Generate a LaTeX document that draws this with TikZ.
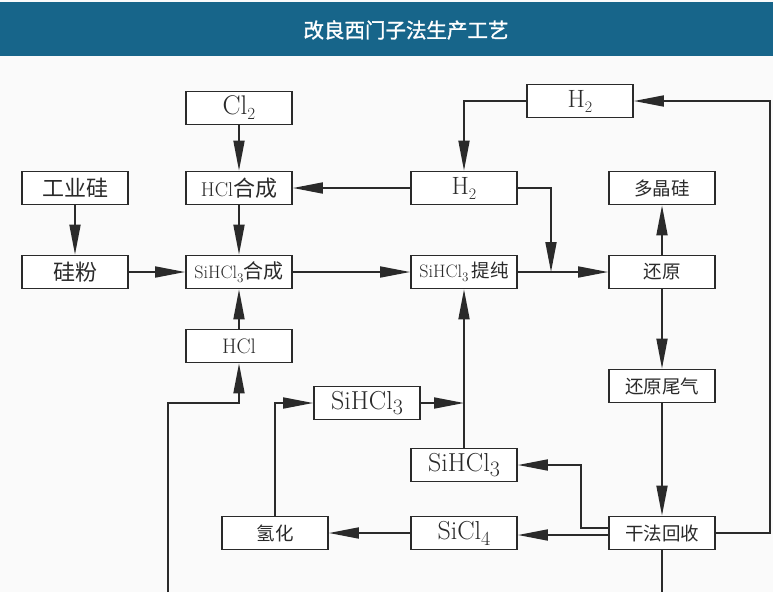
\documentclass[tikz,border=0pt]{standalone}
\usepackage{fontspec}
\newfontfamily\cjk{Noto Sans CJK SC}
\newfontfamily\cjktitle[FakeBold=1.5]{Noto Sans CJK SC}
\usetikzlibrary{arrows.meta}
\definecolor{barblue}{HTML}{17658A}
\definecolor{ink}{HTML}{2A2A2A}
\newcommand{\fsz}[1]{\fontsize{#1}{#1}\selectfont}
\newcommand{\lowsub}[3]{\raisebox{-#1pt}{\fsz{#2}#3}}
\begin{document}
\begin{tikzpicture}[x=1pt,y=-1pt,
  box/.style={draw=ink, line width=1.8pt, minimum width=106pt, minimum height=33pt, inner sep=0pt, fill=white, text=ink},
  conn/.style={draw=ink, line width=1.8pt},
  arr/.style={conn, -{Triangle[length=30pt,width=11pt]}},
  zh/.style={font=\cjk\fsz{22}},
  zhs/.style={font=\cjk\fsz{18.5}}]
\useasboundingbox (0,0) rectangle (773,592);
\fill[white!98!black] (0,0) rectangle (773,592);
\fill[barblue] (0,2) rectangle (773,56);
\node[text=white, font=\cjktitle\fsz{20.5}] (title) at (406,30) {改良西门子法生产工艺};

% boxes
\node[box, font=\fsz{27}] (cl2) at (239,108) {Cl\lowsub{5}{17}{2}};
\node[box, zh] (gys) at (75,188) {工业硅};
\node[box] (hclhc) at (239,188) {\fsz{20}HCl\cjk\fsz{22}合成};
\node[box, font=\fsz{25}] (h2top) at (580,101) {H\lowsub{5}{16}{2}};
\node[box, font=\fsz{25}] (h2mid) at (464,188) {H\lowsub{5}{16}{2}};
\node[box, zhs] (djg) at (662,188) {多晶硅};
\node[box, zh] (gf) at (75,272) {硅粉};
\node[box] (shc) at (239,272) {\fsz{18}SiHCl\lowsub{4}{13}{3}\cjk\fsz{20}合成};
\node[box] (stc) at (464,272) {\fsz{18}SiHCl\lowsub{4}{13}{3}\,\cjk\fsz{18.5}提纯};
\node[box, zhs] (hy) at (662,272) {还原};
\node[box, font=\fsz{21}] (hcl) at (239,346) {HCl};
\node[box, zhs] (hywq) at (662,386) {还原尾气};
\node[box, font=\fsz{26}] (sl) at (367,403) {SiHCl\lowsub{5}{22}{3}};
\node[box, font=\fsz{26}] (sr) at (464,465) {SiHCl\lowsub{5}{22}{3}};
\node[box, zhs] (qh) at (275,533) {氢化};
\node[box, font=\fsz{26}] (sicl4) at (464,533) {SiCl\lowsub{6}{20}{4}};
\node[box, zhs] (gfhs) at (662,533) {干法回收};

% coordinates
\coordinate (j1) at (551,272);
\coordinate (j2) at (464,403);
\coordinate (botL) at (168,592);
\coordinate (botR) at (662,592);

% connectors
\draw[arr] (cl2) -- (hclhc);
\draw[arr] (gys) -- (gf);
\draw[arr] (hclhc) -- (shc);
\draw[arr] (gf) -- (shc);
\draw[arr] (h2mid) -- (hclhc);
\draw[arr] (h2top.west) -| (h2mid.north);
\draw[arr] (gfhs.east) -- (770,533) |- (h2top.east);
\draw[arr] (h2mid.east) -- (551,188) -- (j1);
\draw[arr] (shc) -- (stc);
\draw[arr] (stc) -- (hy);
\draw[arr] (hy) -- (djg);
\draw[arr] (hy) -- (hywq);
\draw[arr] (hywq) -- (gfhs);
\draw[conn] (gfhs) -- (botR);
\draw[arr] ([yshift=5pt]gfhs.west) -- (581,528) -- (581,465) -- (sr.east);
\draw[arr] ([yshift=-2pt]gfhs.west) -- ([yshift=-2pt]sicl4.east);
\draw[arr] (sicl4) -- (qh);
\draw[arr] (qh.north) -- (275,403) -- (sl.west);
\draw[arr] (sl) -- (j2);
\draw[arr] (sr) -- (stc);
\draw[arr] (botL) -- (168,403) -- (239,403) -- (hcl.south);
\draw[arr] (hcl) -- (shc);
\end{tikzpicture}
\end{document}
